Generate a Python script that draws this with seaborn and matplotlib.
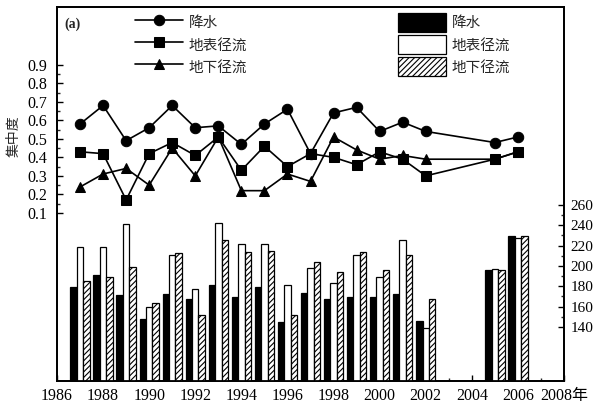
import pandas as pd
import numpy as np

import matplotlib
matplotlib.use("Agg")
import matplotlib.pyplot as plt
from matplotlib.ticker import FixedLocator
import seaborn as sns

# years with data (2003 and 2004 are missing)
years = [1987, 1988, 1989, 1990, 1991, 1992, 1993, 1994, 1995, 1996,
         1997, 1998, 1999, 2000, 2001, 2002, 2005, 2006]

# concentration degree (left axis, lines)
precip_conc = [0.58, 0.68, 0.49, 0.56, 0.68, 0.56, 0.57, 0.47, 0.58, 0.66,
               0.42, 0.64, 0.67, 0.54, 0.59, 0.54, 0.48, 0.51]
surface_conc = [0.43, 0.42, 0.17, 0.42, 0.48, 0.41, 0.51, 0.33, 0.46, 0.35,
                0.42, 0.40, 0.36, 0.43, 0.39, 0.30, 0.39, 0.43]
ground_conc = [0.24, 0.31, 0.34, 0.25, 0.45, 0.30, 0.51, 0.22, 0.22, 0.31,
               0.27, 0.51, 0.44, 0.39, 0.41, 0.39, 0.39, 0.43]

# concentration period (right axis, bars)
precip_period = [179, 191, 171, 148, 172, 167, 181, 169, 179, 145,
                 173, 167, 169, 169, 172, 146, 196, 229]
surface_period = [219, 219, 241, 160, 211, 177, 242, 222, 222, 181,
                  198, 183, 211, 189, 225, 139, 197, 227]
ground_period = [185, 189, 199, 164, 213, 152, 225, 214, 215, 152,
                 204, 194, 214, 196, 211, 167, 196, 229]

series = ['降水', '地表径流', '地下径流']

sns.set_style('ticks')
plt.rcParams['font.family'] = ['Liberation Serif', 'Noto Sans CJK SC']
plt.rcParams['hatch.linewidth'] = 0.8

fig = plt.figure(figsize=(5.97, 4.04), dpi=100)
ax = fig.add_axes([57 / 597, 23 / 404, 507 / 597, 374 / 404])
ax2 = ax.twinx()

# lines
for vals, mk, ms, lab in zip([precip_conc, surface_conc, ground_conc],
                             ['o', 's', '^'], [7.5, 6.5, 7.5], series):
    sns.lineplot(x=years, y=vals, marker=mk, markersize=ms, color='black',
                 linewidth=1.2, markeredgecolor='black', ax=ax, label=lab)

# bars
bars = pd.DataFrame({
    'year': years * 3,
    'value': precip_period + surface_period + ground_period,
    'series': [series[0]] * len(years) + [series[1]] * len(years) + [series[2]] * len(years),
})
sns.barplot(data=bars, x='year', y='value', hue='series', hue_order=series,
            palette=['black', 'white', 'white'], edgecolor='black', linewidth=0.9,
            width=0.84, native_scale=True, errorbar=None, legend=False,
            saturation=1, ax=ax2)
for p in ax2.containers[2].patches:
    p.set_hatch('//////')

ax.set_xlim(1986, 2008)
ax.set_ylim(-0.808, 1.212)
ax2.set_ylim(86.9, 454.4)

ax.xaxis.set_major_locator(FixedLocator(list(range(1986, 2009, 2))))
ax.xaxis.set_minor_locator(FixedLocator(list(range(1987, 2008, 2))))
xlabels = [str(y) for y in range(1986, 2008, 2)] + ['2008年']
ax.set_xticklabels(xlabels, fontsize=11.5)
ax2.xaxis.set_visible(False)

ax.yaxis.set_major_locator(FixedLocator([0.1, 0.2, 0.3, 0.4, 0.5, 0.6, 0.7, 0.8, 0.9]))
ax.yaxis.set_minor_locator(FixedLocator(list(np.arange(0.15, 0.9, 0.1))))
ax.set_yticklabels(['0.1', '0.2', '0.3', '0.4', '0.5', '0.6', '0.7', '0.8', '0.9'], fontsize=11.5)

ax2.yaxis.set_major_locator(FixedLocator([140, 160, 180, 200, 220, 240, 260]))
ax2.yaxis.set_minor_locator(FixedLocator([150, 170, 190, 210, 230, 250]))
ax2.set_yticklabels(['140', '160', '180', '200', '220', '240', '260'], fontsize=11)

for a in (ax, ax2):
    a.tick_params(which='major', direction='in', length=4, width=1, pad=3, colors='black')
    a.tick_params(which='minor', direction='in', length=2.5, width=1)
    for s in a.spines.values():
        s.set_linewidth(1.3)
        s.set_color('black')
ax.tick_params(axis='x', pad=5)
ax.tick_params(axis='y', right=False, which='both')
ax.tick_params(axis='y', which='major', pad=7)
ax2.tick_params(axis='y', left=False, which='both')
ax2.tick_params(axis='y', which='major', pad=4.5)

ax.set_xlabel('')
ax.set_ylabel('')
ax2.set_ylabel('')
fig.text(14 / 597, 1 - 136 / 404, '集中度', rotation=90, fontsize=10,
         ha='center', va='center')
fig.text(64 / 597, 1 - 24 / 404, '(a)', fontsize=10, ha='left', va='center',
         fontweight='bold')

leg_kw = dict(frameon=False, fontsize=10.5, handlelength=3.3, handleheight=1.65,
              labelspacing=0.2, handletextpad=0.4, borderpad=0, borderaxespad=0,
              loc='upper left', bbox_transform=fig.transFigure)
h, l = ax.get_legend_handles_labels()
ax.legend(h, l, bbox_to_anchor=(135 / 597, 1 - 13 / 404), **leg_kw)
ax2.legend(ax2.containers, series, bbox_to_anchor=(398 / 597, 1 - 13 / 404), **leg_kw)

fig.savefig('out.png', dpi=100)
